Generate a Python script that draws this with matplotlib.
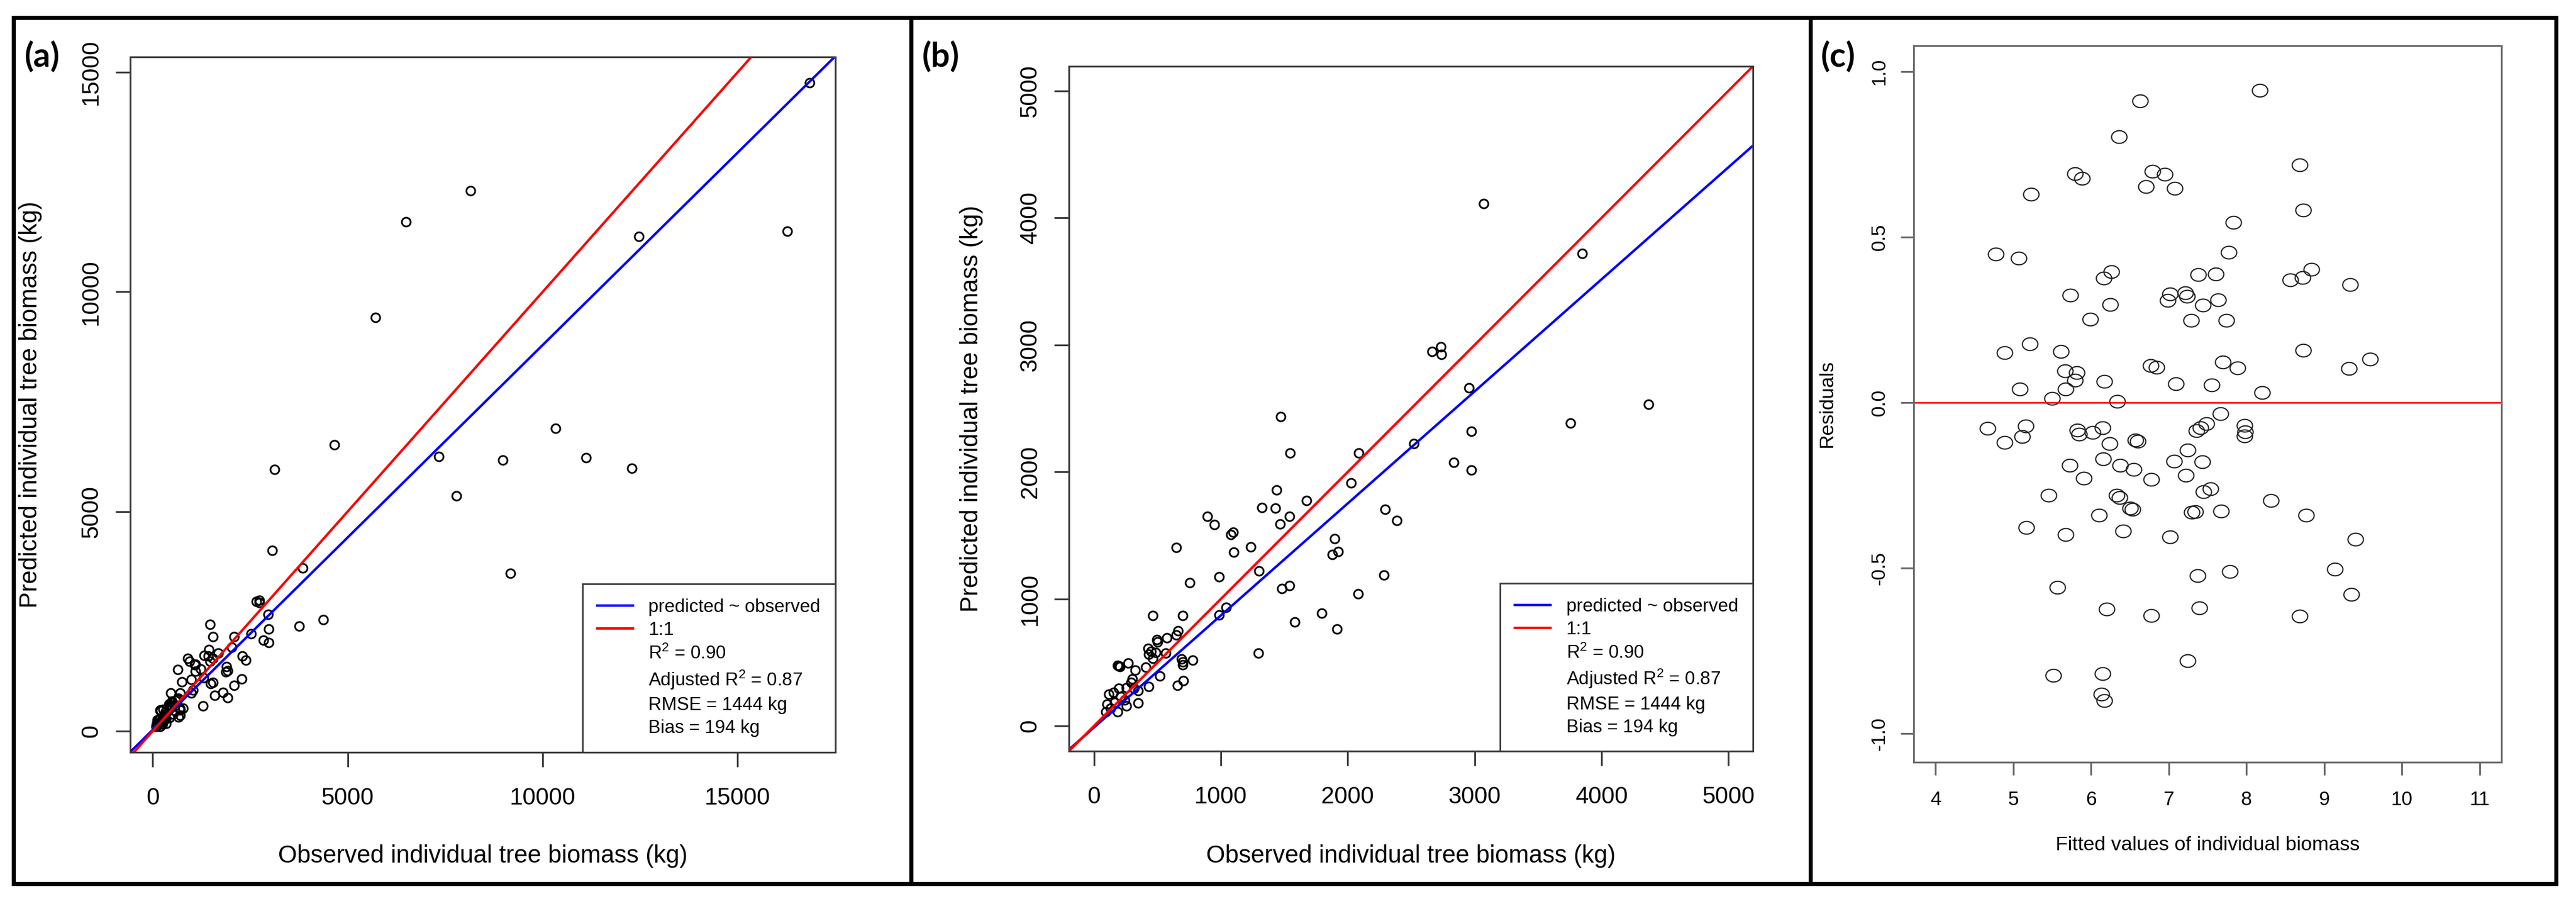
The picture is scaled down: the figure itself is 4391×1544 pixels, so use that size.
import matplotlib
matplotlib.use("Agg")
import matplotlib.pyplot as plt
from matplotlib.lines import Line2D
from matplotlib.patches import Rectangle
from matplotlib.path import Path
from matplotlib.transforms import Affine2D

W, H = 4391, 1544
plt.rcParams['font.family'] = ['Liberation Sans', 'DejaVu Sans']
plt.rcParams['mathtext.fontset'] = 'custom'
plt.rcParams['mathtext.rm'] = 'Liberation Sans'
plt.rcParams['mathtext.it'] = 'Liberation Sans:italic'
plt.rcParams['axes.unicode_minus'] = False

# observed vs predicted individual tree biomass (kg), used in (a) and (b)
observed = [16850, 8155, 6500, 12460, 16275, 5705, 4655, 3130, 10330, 7335,
            8975, 11105, 12285, 7780, 9175,
            3071, 3849, 4372, 3755, 2664, 2734, 2740, 2957, 2975, 2519,
            2834, 2975, 1471, 1545, 2085, 2024, 1437, 1673, 1324, 1428,
            1541, 1466, 2292, 2387, 894, 948, 1094, 1079, 1236, 647,
            1099, 1896, 1877, 1922, 1299, 986, 755, 1479, 1541, 2287,
            2083, 1795, 1583, 1914, 1294, 1040, 986, 462, 698,
            663, 647, 575, 493, 501, 424, 447, 485, 431, 563,
            462, 690, 775, 698, 697, 193, 185, 205, 270, 324,
            408, 516, 701, 655, 431, 300, 293, 254, 193, 116,
            100, 154, 208, 347, 254, 185, 92, 131, 162, 316,
            347, 239]
predicted = [14765, 12305, 11595, 11255, 11385, 9415, 6520, 5955, 6890, 6255,
             6165, 6220, 5980, 5350, 3590,
             4114, 3720, 2534, 2386, 2948, 2983, 2925, 2663, 2318, 2221,
             2074, 2013, 2436, 2147, 2147, 1913, 1859, 1774, 1720, 1712,
             1650, 1589, 1704, 1615, 1650, 1586, 1524, 1504, 1410, 1404,
             1368, 1473, 1350, 1370, 1219, 1175, 1127, 1080, 1105, 1188,
             1040, 888, 818, 760, 575, 934, 872, 869, 869,
             749, 718, 695, 680, 661, 610, 587, 579, 564, 572,
             533, 526, 518, 479, 502, 472, 478, 465, 495, 441,
             464, 394, 356, 320, 310, 371, 341, 302, 294, 248,
             171, 263, 233, 179, 156, 109, 109, 140, 186, 294,
             279, 202]

# fitted regression lines (intercept, slope) as drawn in (a) and (b)
fit_a = (30, 0.876)
fit_b = (-12, 0.882)

# fitted values vs residuals, panel (c)
fitted = [8.170, 6.636, 6.364, 8.686, 5.792, 5.883, 6.789, 6.950, 6.706, 7.075,
          5.227, 8.728, 7.835, 4.774, 5.067, 7.773, 8.833, 6.266, 6.162, 7.382,
          7.605, 8.561, 8.721, 9.335, 5.736, 7.020, 6.985, 7.215, 7.236, 7.633,
          6.245, 7.438, 5.993, 7.285, 7.738, 5.213, 4.893, 5.611, 8.728, 9.593,
          9.321, 7.696, 7.884, 6.768, 6.845, 5.667, 5.819, 5.792, 6.169, 7.096,
          7.550, 5.088, 5.674, 8.205, 5.499, 6.336, 7.668, 4.669, 5.158, 4.893,
          5.116, 5.827, 5.848, 6.022, 6.148, 6.239, 6.573, 6.601, 7.354, 7.410,
          7.487, 7.975, 7.982, 7.975, 7.243, 5.729, 6.155, 6.378, 6.552, 7.068,
          7.431, 5.911, 6.775, 7.222, 5.457, 6.329, 6.371, 7.445, 7.536, 8.317,
          6.504, 6.532, 7.299, 7.342, 6.106, 7.675, 8.770, 5.172, 6.413, 5.674,
          7.020, 9.398, 9.139, 7.787, 7.368, 9.349, 5.569, 6.204, 7.396, 6.775,
          8.686, 7.243, 5.513, 6.148, 6.134, 6.169]
residuals = [0.944, 0.911, 0.803, 0.718, 0.692, 0.678, 0.699, 0.690, 0.653, 0.648,
             0.629, 0.582, 0.544, 0.449, 0.436, 0.453, 0.402, 0.395, 0.376, 0.387,
             0.389, 0.371, 0.378, 0.357, 0.324, 0.328, 0.308, 0.331, 0.321, 0.310,
             0.296, 0.294, 0.251, 0.249, 0.249, 0.178, 0.150, 0.155, 0.157, 0.131,
             0.103, 0.122, 0.105, 0.111, 0.106, 0.096, 0.091, 0.068, 0.064, 0.056,
             0.054, 0.040, 0.040, 0.030, 0.012, 0.003, -0.033, -0.078, -0.071, -0.120,
             -0.103, -0.084, -0.096, -0.091, -0.077, -0.125, -0.113, -0.117, -0.085, -0.077,
             -0.064, -0.070, -0.089, -0.101, -0.143, -0.190, -0.171, -0.190, -0.202, -0.178,
             -0.179, -0.228, -0.232, -0.220, -0.280, -0.280, -0.287, -0.270, -0.261, -0.296,
             -0.319, -0.322, -0.331, -0.329, -0.340, -0.328, -0.340, -0.378, -0.389, -0.399,
             -0.406, -0.413, -0.503, -0.510, -0.523, -0.580, -0.559, -0.625, -0.620, -0.643,
             -0.646, -0.780, -0.824, -0.819, -0.882, -0.901]

ticks_a = [0, 5000, 10000, 15000]
ticks_b = [0, 1000, 2000, 3000, 4000, 5000]
xticks_c = [4, 5, 6, 7, 8, 9, 10, 11]
yticks_c = [-1.0, -0.5, 0.0, 0.5, 1.0]

legend_labels = ["predicted ~ observed", "1:1", r"R$^{2}$ = 0.90",
                 r"Adjusted R$^{2}$ = 0.87", "RMSE = 1444 kg", "Bias = 194 kg"]

xlab = "Observed individual tree biomass (kg)"
ylab = "Predicted individual tree biomass (kg)"

GREY = '#3c3c3c'


def add_ax(fig, left, top, right, bottom):
    # pixel box -> figure fraction
    return fig.add_axes([left / W, 1 - bottom / H, (right - left) / W, (bottom - top) / H])


def style(ax, fs, xpad, ypad, tlen, col=GREY):
    for s in ax.spines.values():
        s.set_color(col)
        s.set_linewidth(2.2)
    ax.tick_params(length=tlen, width=2.2, color=col, labelsize=fs, direction='out')
    ax.tick_params(axis='x', pad=xpad)
    ax.tick_params(axis='y', pad=ypad)


def add_legend(ax):
    handles = [Line2D([], [], color='blue', lw=3.0), Line2D([], [], color='red', lw=3.0)]
    handles += [Line2D([], [], color='none') for _ in range(4)]
    leg = ax.legend(handles, legend_labels, loc='lower right', fontsize=22.5,
                    fancybox=False, framealpha=1, edgecolor=GREY, borderaxespad=0,
                    borderpad=0.8, handlelength=1.95, handletextpad=0.85,
                    labelspacing=0.3)
    leg.get_frame().set_linewidth(2.0)


fig = plt.figure(figsize=(W / 100, H / 100), dpi=100)

# (a) full range
ax = add_ax(fig, 222, 96.5, 1423.5, 1281.5)
ax.plot(observed, predicted, 'o', mfc='none', mec='black', ms=10.8, mew=2.1)
ax.axline((0, fit_a[0]), slope=fit_a[1], color='blue', lw=3.0)
ax.axline((0, 0), slope=1, color='red', lw=3.0)
ax.set_xlim(-576, 17497)
ax.set_ylim(-474, 15354)
ax.set_xticks(ticks_a)
ax.set_yticks(ticks_a, labels=[str(t) for t in ticks_a], rotation=90, va='center')
style(ax, 29, 24.5, 16.5, 18)
ax.set_xlabel(xlab, fontsize=30)
ax.set_ylabel(ylab, fontsize=30)
ax.xaxis.set_label_coords(0.5, -0.133)
ax.yaxis.set_label_coords(-0.1248, 0.5)
add_legend(ax)

# (b) zoom below 5000 kg
ax = add_ax(fig, 1822, 113, 2988, 1280)
ax.plot(observed, predicted, 'o', mfc='none', mec='black', ms=10.8, mew=2.1)
ax.axline((0, fit_b[0]), slope=fit_b[1], color='blue', lw=3.0)
ax.axline((0, 0), slope=1, color='red', lw=3.0)
ax.set_xlim(-199, 5194)
ax.set_ylim(-199, 5194)
ax.set_xticks(ticks_b)
ax.set_yticks(ticks_b, labels=[str(t) for t in ticks_b], rotation=90, va='center')
style(ax, 29, 24.5, 16, 18)
ax.set_xlabel(xlab, fontsize=30)
ax.set_ylabel(ylab, fontsize=30)
ax.xaxis.set_label_coords(0.5, -0.136)
ax.yaxis.set_label_coords(-0.1252, 0.5)
add_legend(ax)

# (c) residuals
ell = Path.unit_circle().transformed(Affine2D().scale(1.0, 0.82))
ax = add_ax(fig, 3262, 78, 4264, 1299)
ax.plot(fitted, residuals, linestyle='none', marker=ell, mfc='none', mec='#222222',
        ms=19, mew=1.5)
ax.axhline(0, color='red', lw=1.9)
ax.set_xlim(3.72, 11.28)
ax.set_ylim(-1.087, 1.078)
ax.set_xticks(xticks_c)
ax.set_yticks(yticks_c, labels=[f"{t:.1f}" for t in yticks_c], rotation=90, va='center')
style(ax, 24, 19.5, 14.5, 16, col='#6a6a6a')
ax.set_xlabel("Fitted values of individual biomass", fontsize=24.5)
ax.set_ylabel("Residuals", fontsize=24.5)
ax.xaxis.set_label_coords(0.5, -0.103)
ax.yaxis.set_label_coords(-0.1317, 0.5)

# panel letters
for lbl, xp in [("(a)", 42), ("(b)", 1572), ("(c)", 3104)]:
    fig.text(xp / W, 1 - 97 / H, lbl, ha='left', va='center', fontsize=41,
             fontweight='bold', family=['Lato', 'DejaVu Sans'])

# outer frame and dividers
fig.add_artist(Rectangle((22.5 / W, 1 - 1506 / H), (4357 - 22.5) / W, (1506 - 29.5) / H,
                         transform=fig.transFigure, fill=False, ec='black', lw=5))
for xd in [1552.5, 3085.5]:
    fig.add_artist(Line2D([xd / W, xd / W], [1 - 1506 / H, 1 - 29.5 / H],
                          transform=fig.transFigure, color='black', lw=5))

fig.savefig("out.png", dpi=100)
